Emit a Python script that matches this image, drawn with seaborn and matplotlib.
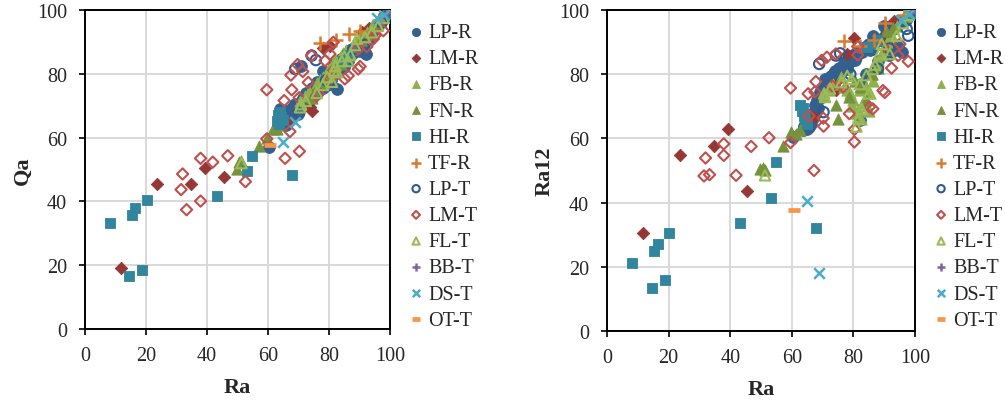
import matplotlib
matplotlib.use("Agg")
import matplotlib.pyplot as plt
import seaborn as sns

sns.set_style("white")
plt.rcParams["font.family"] = ["Liberation Serif", "DejaVu Serif"]

# ---- series data: Ra on both panels, Qa (left) and Ra12 (right) ----
lp_r_ra = [60.4, 63.5, 64.0, 64.8, 65.5, 66.0, 66.8, 67.5, 68.2, 69.0, 69.8, 70.8, 71.5, 72.3, 73.0,
           73.8, 74.5, 75.3, 76.0, 76.8, 77.9, 78.5, 79.2, 80.0, 80.8, 81.5, 82.1, 82.5, 83.2, 84.0,
           84.8, 85.5, 86.3, 87.0, 88.0, 89.0, 90.0, 91.0, 92.0, 93.0, 94.5, 95.7, 97.0, 98.0, 99.5,
           65.0, 66.3, 67.0, 68.5, 70.0, 71.0, 72.0, 72.8, 74.0, 75.0, 76.5, 77.5, 78.0, 79.0, 80.5,
           81.0, 82.8, 83.8, 85.0, 86.0, 88.5, 90.5, 91.5, 93.5, 96.0]
lp_r_qa = [57.0, 64.5, 69.0, 65.0, 67.5, 64.0, 68.5, 66.5, 69.5, 70.5, 67.5, 82.5, 72.5, 74.0, 71.0,
           73.5, 75.5, 74.0, 77.5, 76.0, 81.0, 78.0, 76.5, 80.5, 78.0, 83.0, 80.5, 75.2, 82.0, 84.5,
           82.0, 86.0, 84.0, 87.5, 86.5, 88.0, 87.0, 90.5, 86.2, 92.0, 93.5, 95.0, 96.5, 98.0, 99.5,
           66.0, 66.5, 67.5, 68.0, 70.0, 71.5, 72.0, 73.5, 73.0, 75.0, 74.5, 77.0, 75.5, 79.0, 80.0,
           79.0, 81.0, 82.5, 84.0, 85.0, 87.0, 89.0, 89.5, 91.0, 95.5]
lp_r_ra12 = [60.5, 62.5, 64.0, 65.5, 63.5, 66.0, 68.0, 70.5, 72.0, 74.5, 73.0, 78.5, 76.0, 79.0, 78.0,
             80.5, 79.5, 82.0, 81.0, 83.5, 82.5, 85.0, 84.0, 86.0, 85.5, 87.0, 65.6, 77.0, 88.0, 80.0,
             89.0, 87.5, 92.0, 90.0, 84.0, 91.0, 95.0, 89.0, 87.0, 94.0, 88.5, 86.9, 97.0, 98.5, 99.5,
             63.0, 64.5, 66.5, 69.5, 75.5, 77.0, 78.0, 79.5, 81.0, 80.0, 82.5, 84.0, 81.5, 85.5, 84.5,
             86.5, 87.0, 88.5, 89.5, 88.0, 90.5, 92.5, 86.0, 87.5, 96.5]

lm_r_ra = [11.8, 23.7, 34.6, 39.3, 45.5, 67.2, 73.7, 74.3, 77.9, 80.3, 90.7, 93.2, 98.6]
lm_r_qa = [19.2, 45.5, 45.5, 50.4, 47.5, 65.0, 69.7, 68.4, 88.1, 88.8, 93.0, 94.5, 99.0]
lm_r_ra12 = [30.6, 54.9, 57.5, 62.8, 43.5, 66.6, 76.5, 75.0, 86.3, 91.2, 92.5, 96.7, 99.5]

fb_r_ra = [70.5, 72.0, 73.5, 76.0, 78.0, 79.5, 81.0, 82.5, 83.5, 84.5, 85.5, 86.5, 87.5, 89.0, 91.0,
           94.0, 97.0, 77.0, 79.0, 80.0, 81.5, 82.0, 83.0, 84.0, 85.0, 86.0, 88.0, 90.0, 92.5]
fb_r_qa = [71.5, 73.0, 74.5, 77.0, 79.0, 80.5, 82.0, 83.5, 85.0, 86.5, 87.5, 86.0, 88.5, 90.0, 92.0,
           95.0, 97.5, 78.0, 80.0, 81.5, 83.0, 84.5, 84.0, 85.5, 86.0, 87.0, 89.0, 91.5, 93.0]
fb_r_ra12 = [73.5, 75.0, 77.0, 79.0, 75.0, 70.0, 68.0, 66.0, 72.0, 70.0, 74.0, 78.0, 83.0, 86.0, 90.0,
             95.0, 98.0, 76.0, 74.0, 72.0, 69.0, 75.0, 71.0, 76.0, 68.5, 80.0, 84.5, 88.0, 92.0]

fn_r_ra = [49.7, 50.6, 51.3, 57.0, 59.6, 61.5, 62.8, 63.9, 74.4, 75.1, 78.5, 80.5, 82.0, 84.0, 86.0,
           88.0, 90.5, 93.0, 96.0]
fn_r_qa = [50.2, 52.2, 52.8, 57.5, 59.8, 62.7, 62.7, 63.9, 72.5, 74.0, 77.0, 79.5, 81.5, 83.0, 85.5,
           88.0, 90.5, 92.5, 96.0]
fn_r_ra12 = [50.4, 50.8, 50.2, 57.5, 62.0, 61.4, 62.5, 65.0, 70.3, 66.1, 73.0, 78.0, 76.0, 72.0, 80.0,
             82.0, 93.5, 94.5, 97.5]

hi_r_ra = [8.2, 14.5, 15.3, 16.4, 18.8, 20.2, 43.2, 53.1, 54.9, 67.8, 62.8, 63.3, 63.8, 64.3, 64.8,
           63.6, 84.5, 86.0, 87.5, 99.5, 100.0]
hi_r_qa = [33.2, 16.7, 35.7, 37.9, 18.6, 40.4, 41.8, 49.5, 54.3, 48.4, 65.2, 67.0, 68.0, 66.5, 65.5,
           64.2, 84.0, 86.0, 87.5, 99.0, 100.0]
hi_r_ra12 = [21.3, 13.3, 24.9, 27.0, 15.9, 30.4, 33.8, 41.5, 52.8, 32.1, 70.5, 68.5, 67.0, 66.0, 64.5,
             69.5, 88.5, 89.5, 90.5, 99.0, 100.0]

tf_r_ra = [77.0, 82.3, 86.6, 90.3, 96.5]
tf_r_qa = [89.7, 90.7, 92.6, 93.5, 97.0]
tf_r_ra12 = [90.3, 88.9, 90.5, 96.0, 98.5]

lp_t_ra = [68.9, 70.3, 74.3, 75.7, 79.0, 88.0, 91.7, 97.3, 97.8, 100.0]
lp_t_qa = [81.5, 67.9, 85.7, 84.3, 78.0, 87.8, 89.1, 96.0, 97.0, 100.0]
lp_t_ra12 = [83.2, 68.2, 85.8, 86.5, 80.0, 81.7, 88.0, 94.1, 92.0, 100.0]

lm_t_ra = [31.5, 32.0, 33.3, 37.9, 37.9, 41.9, 46.8, 52.6, 59.6, 59.6, 65.6, 65.3, 67.2, 67.8, 67.5,
           69.7, 70.3, 70.2, 71.4, 73.2, 74.3, 76.0, 76.6, 78.7, 80.3, 80.3, 81.4, 81.4, 85.2, 86.3,
           89.6, 90.2, 89.6, 92.4, 94.5, 95.1, 97.8]
lm_t_qa = [43.7, 48.6, 37.4, 53.5, 40.1, 52.3, 54.3, 46.2, 75.0, 59.6, 53.5, 71.6, 61.9, 75.0, 79.6,
           82.9, 55.7, 72.5, 80.7, 77.3, 85.7, 73.1, 73.8, 84.1, 86.2, 78.4, 81.0, 89.9, 78.4, 79.4,
           81.5, 82.3, 87.8, 88.5, 90.9, 92.0, 93.5]
lm_t_ra12 = [48.3, 53.9, 48.7, 58.3, 54.7, 48.5, 57.5, 60.2, 75.7, 58.7, 67.0, 73.9, 50.0, 77.7, 74.5,
             84.3, 63.8, 66.3, 85.3, 76.3, 86.3, 77.0, 76.0, 67.7, 58.9, 62.8, 88.6, 86.0, 69.8, 69.2,
             74.9, 74.3, 88.5, 81.9, 85.8, 89.4, 84.0]

fl_t_ra = [51.3, 70.5, 70.8, 72.4, 76.0, 78.0, 79.4, 81.0, 81.6, 82.1, 82.7, 84.2, 85.0, 86.3, 87.0,
           88.5, 89.2, 91.8, 94.0, 96.1, 98.0]
fl_t_qa = [52.0, 69.5, 70.5, 71.5, 74.0, 76.5, 79.0, 77.5, 81.0, 82.5, 80.5, 84.0, 85.5, 84.0, 86.0,
           89.0, 91.0, 91.5, 93.0, 95.0, 97.5]
fl_t_ra12 = [48.5, 74.0, 72.9, 75.5, 77.5, 79.5, 78.5, 63.7, 66.1, 76.9, 69.2, 79.7, 74.0, 81.6, 83.0,
             86.5, 89.4, 86.3, 92.0, 95.9, 98.5]

bb_t_ra = [99.0]
bb_t_qa = [99.2]
bb_t_ra12 = [99.5]

ds_t_ra = [64.8, 68.9, 95.6, 98.0]
ds_t_qa = [58.7, 64.8, 97.5, 98.5]
ds_t_ra12 = [40.6, 18.1, 97.0, 98.8]

ot_t_ra = [60.8]
ot_t_qa = [57.8]
ot_t_ra12 = [37.8]

tick_values = [0, 20, 40, 60, 80, 100]

# name, Ra, Qa, Ra12, marker, colour, fill style, size
series = [
    ("LP-R", lp_r_ra, lp_r_qa, lp_r_ra12, "o", "#34608F", True, 72),
    ("LM-R", lm_r_ra, lm_r_qa, lm_r_ra12, "D", "#953735", True, 40),
    ("FB-R", fb_r_ra, fb_r_qa, fb_r_ra12, "^", "#8DB14C", True, 66),
    ("FN-R", fn_r_ra, fn_r_qa, fn_r_ra12, "^", "#76923C", True, 66),
    ("HI-R", hi_r_ra, hi_r_qa, hi_r_ra12, "s", "#31859C", True, 62),
    ("TF-R", tf_r_ra, tf_r_qa, tf_r_ra12, "+", "#DA7A2E", False, 95),
    ("LP-T", lp_t_ra, lp_t_qa, lp_t_ra12, "o", "#2C5A91", "open", 56),
    ("LM-T", lm_t_ra, lm_t_qa, lm_t_ra12, "D", "#C0504D", "open", 33),
    ("FL-T", fl_t_ra, fl_t_qa, fl_t_ra12, "^", "#9BBB59", "open", 56),
    ("BB-T", bb_t_ra, bb_t_qa, bb_t_ra12, "+", "#8064A2", False, 60),
    ("DS-T", ds_t_ra, ds_t_qa, ds_t_ra12, "x", "#4BACC6", False, 58),
    ("OT-T", ot_t_ra, ot_t_qa, ot_t_ra12, "_", "#F79646", False, 85),
]

W, H = 1005, 402
fig = plt.figure(figsize=(W / 100, H / 100), dpi=100)
ax_left = fig.add_axes([85 / W, 1 - 330 / H, 305 / W, 319 / H])
ax_right = fig.add_axes([607 / W, 1 - 332 / H, 308 / W, 321 / H])


def draw_panel(ax, ycol, ylabel, legend_x):
    for name, ra, qa, ra12, marker, color, filled, size in series:
        yvals = qa if ycol == "qa" else ra12
        kws = dict(x=ra, y=yvals, ax=ax, marker=marker, s=size, label=name, legend=False, zorder=3)
        if filled is True:
            kws.update(color=color, edgecolor=color, linewidth=0.6)
        elif filled == "open":
            kws.update(color=color, facecolor="none", edgecolor=color, linewidth=1.5)
        else:
            kws.update(color=color, linewidth=1.8 if marker != "_" else 3.4)
        sns.scatterplot(**kws)

    ax.set_xlim(0, 100)
    ax.set_ylim(0, 100)
    ax.set_xticks(tick_values)
    ax.set_yticks(tick_values)
    ax.grid(True, color="#D9D9D9", linewidth=1.4, zorder=0)
    ax.set_axisbelow(True)
    for sp in ax.spines.values():
        sp.set_visible(True)
        sp.set_color("black")
        sp.set_linewidth(1.4)
    ax.tick_params(axis="both", direction="out", length=4, width=1.2, color="black",
                   labelsize=14.5, bottom=True, left=True)
    ax.tick_params(axis="x", pad=8)
    ax.tick_params(axis="y", pad=9)
    ax.set_xlabel("Ra", fontsize=16, fontweight="bold", labelpad=9)
    ax.set_ylabel(ylabel, fontsize=16, fontweight="bold", labelpad=3)

    leg = ax.legend(loc="upper left", bbox_to_anchor=(legend_x, 1 - 24 / H),
                    bbox_transform=fig.transFigure, frameon=False, fontsize=14.5,
                    markerscale=0.7, handletextpad=0.1, labelspacing=0.35,
                    borderaxespad=0, handlelength=1.0, borderpad=0)
    return leg


draw_panel(ax_left, "qa", "Qa", 406 / W)
draw_panel(ax_right, "ra12", "Ra12", 931 / W)

fig.savefig("out.png", dpi=100)
